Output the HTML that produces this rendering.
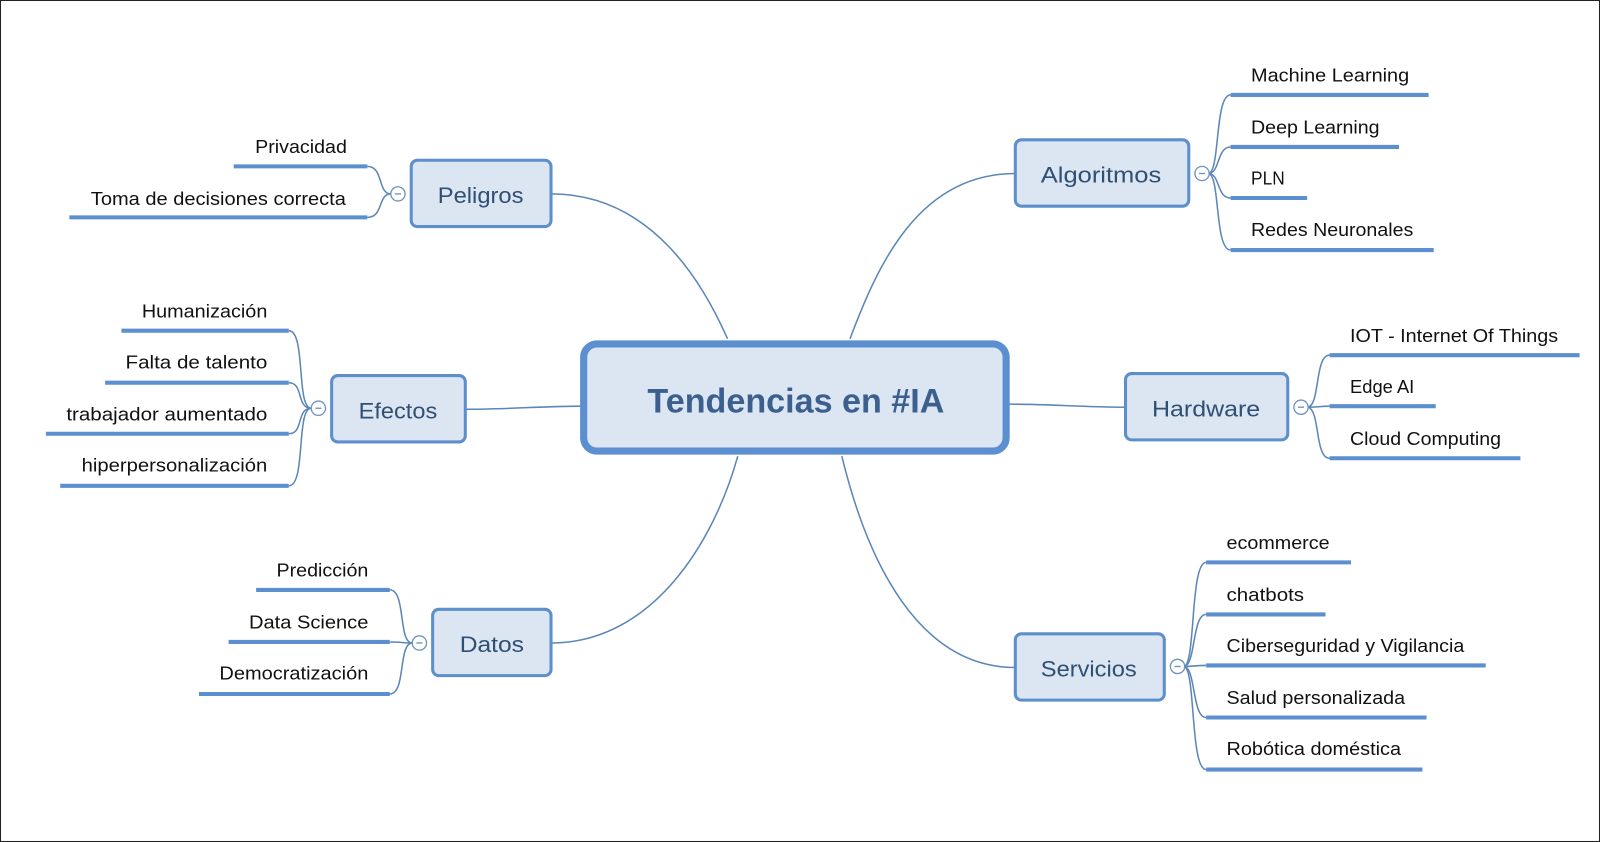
<!DOCTYPE html>
<html><head><meta charset="utf-8"><style>html,body{margin:0;padding:0;background:#fff}svg{display:block}</style></head>
<body>
<svg width="1600" height="842" viewBox="0 0 1568 825" preserveAspectRatio="none" xmlns="http://www.w3.org/2000/svg" font-family="Liberation Sans, sans-serif">
<rect x="0.5" y="0.5" width="1567" height="824" fill="#fff" stroke="#222" stroke-width="1"/>
<g fill="none" stroke="#5b86b8" stroke-width="1.5">
<path d="M540,190 C640,190 690,280 713,332"/>
<path d="M995,170 C900,170 860,260 833,332"/>
<path d="M456,401 C500,401 530,398 569,398"/>
<path d="M989,396 C1030,396 1060,399 1103,399"/>
<path d="M540,630 C640,630 700,530 723,447"/>
<path d="M995,654 C900,654 850,550 825,447"/>
<!-- child branches -->
<path d="M383,190 C370,190 376,163 360,163"/><path d="M383,190 C370,190 376,213 360,213"/>
<path d="M305,400 C290,400 300,324 283,324"/><path d="M305,400 C290,400 298,375 283,375"/>
<path d="M305,400 C290,400 298,425 283,425"/><path d="M305,400 C290,400 300,476 283,476"/>
<path d="M404,630 C390,630 398,578 382,578"/><path d="M404,630 C392,630 396,629 382,629"/><path d="M404,630 C390,630 398,680 382,680"/>
<path d="M1184,170 C1196,170 1190,93 1206,93"/><path d="M1184,170 C1196,170 1192,144 1206,144"/>
<path d="M1184,170 C1196,170 1192,194 1206,194"/><path d="M1184,170 C1196,170 1190,245 1206,245"/>
<path d="M1281,399 C1294,399 1288,348 1303,348"/><path d="M1281,399 C1292,399 1292,398 1303,398"/><path d="M1281,399 C1294,399 1288,449 1303,449"/>
<path d="M1160,653 C1172,653 1166,551 1182,551"/><path d="M1160,653 C1172,653 1168,602 1182,602"/>
<path d="M1160,653 C1172,653 1170,652 1182,652"/><path d="M1160,653 C1172,653 1168,703 1182,703"/>
<path d="M1160,653 C1172,653 1166,754 1182,754"/>
</g>
<g stroke="#5b8fd0" stroke-width="4">
<line x1="229" y1="163" x2="360" y2="163"/><line x1="68" y1="213" x2="360" y2="213"/>
<line x1="119" y1="324" x2="283" y2="324"/><line x1="103" y1="375" x2="283" y2="375"/>
<line x1="45" y1="425" x2="283" y2="425"/><line x1="59" y1="476" x2="283" y2="476"/>
<line x1="251" y1="578" x2="382" y2="578"/><line x1="224" y1="629" x2="382" y2="629"/><line x1="195" y1="680" x2="382" y2="680"/>
<line x1="1206" y1="93" x2="1400" y2="93"/><line x1="1206" y1="144" x2="1371" y2="144"/>
<line x1="1206" y1="194" x2="1281" y2="194"/><line x1="1206" y1="245" x2="1405" y2="245"/>
<line x1="1303" y1="348" x2="1548" y2="348"/><line x1="1303" y1="398" x2="1407" y2="398"/><line x1="1303" y1="449" x2="1490" y2="449"/>
<line x1="1182" y1="551" x2="1324" y2="551"/><line x1="1182" y1="602" x2="1299" y2="602"/>
<line x1="1182" y1="652" x2="1456" y2="652"/><line x1="1182" y1="703" x2="1398" y2="703"/><line x1="1182" y1="754" x2="1394" y2="754"/>
</g>
<g fill="#fff" stroke="#6f93bb" stroke-width="1.3">
<circle cx="390" cy="190" r="7"/><circle cx="312" cy="400" r="7"/><circle cx="411" cy="630" r="7"/>
<circle cx="1178" cy="170" r="7"/><circle cx="1275" cy="399" r="7"/><circle cx="1154" cy="653" r="7"/>
</g>
<g stroke="#6f93bb" stroke-width="1.3">
<line x1="387" y1="190" x2="393" y2="190"/><line x1="309" y1="400" x2="315" y2="400"/><line x1="408" y1="630" x2="414" y2="630"/>
<line x1="1175" y1="170" x2="1181" y2="170"/><line x1="1272" y1="399" x2="1278" y2="399"/><line x1="1151" y1="653" x2="1157" y2="653"/>
</g>
<rect x="572" y="337" width="414" height="105" rx="13" fill="#dce6f2" stroke="#5b8fd0" stroke-width="7"/>
<text x="780" y="404" text-anchor="middle" font-size="34" font-weight="bold" fill="#3b5f8e" textLength="291" lengthAdjust="spacingAndGlyphs">Tendencias en #IA</text>
<g fill="#dce6f2" stroke="#5d8fcc" stroke-width="3">
<rect x="403" y="157" width="137" height="65" rx="6"/><rect x="325" y="368" width="131" height="65" rx="6"/>
<rect x="424" y="597" width="116" height="65" rx="6"/><rect x="995" y="137" width="170" height="65" rx="6"/>
<rect x="1103" y="366" width="159" height="65" rx="6"/><rect x="995" y="621" width="146" height="65" rx="6"/>
</g>
<g font-size="22" fill="#2f4f73" text-anchor="middle" lengthAdjust="spacingAndGlyphs">
<text x="471" y="199" textLength="84" lengthAdjust="spacingAndGlyphs">Peligros</text>
<text x="390" y="410" textLength="77" lengthAdjust="spacingAndGlyphs">Efectos</text>
<text x="482" y="639" textLength="63" lengthAdjust="spacingAndGlyphs">Datos</text>
<text x="1079" y="179" textLength="118" lengthAdjust="spacingAndGlyphs">Algoritmos</text>
<text x="1182" y="408" textLength="106" lengthAdjust="spacingAndGlyphs">Hardware</text>
<text x="1067" y="663" textLength="94" lengthAdjust="spacingAndGlyphs">Servicios</text>
</g>
<g font-size="18" fill="#111">
<text x="250" y="150" textLength="90" lengthAdjust="spacingAndGlyphs">Privacidad</text>
<text x="89" y="201" textLength="250" lengthAdjust="spacingAndGlyphs">Toma de decisiones correcta</text>
<text x="139" y="311" textLength="123" lengthAdjust="spacingAndGlyphs">Humanización</text>
<text x="123" y="361" textLength="139" lengthAdjust="spacingAndGlyphs">Falta de talento</text>
<text x="65" y="412" textLength="197" lengthAdjust="spacingAndGlyphs">trabajador aumentado</text>
<text x="80" y="462" textLength="182" lengthAdjust="spacingAndGlyphs">hiperpersonalización</text>
<text x="271" y="565" textLength="90" lengthAdjust="spacingAndGlyphs">Predicción</text>
<text x="244" y="616" textLength="117" lengthAdjust="spacingAndGlyphs">Data  Science</text>
<text x="215" y="666" textLength="146" lengthAdjust="spacingAndGlyphs">Democratización</text>
<text x="1226" y="80" textLength="155" lengthAdjust="spacingAndGlyphs">Machine Learning</text>
<text x="1226" y="131" textLength="126" lengthAdjust="spacingAndGlyphs">Deep Learning</text>
<text x="1226" y="181" textLength="33" lengthAdjust="spacingAndGlyphs">PLN</text>
<text x="1226" y="231" textLength="159" lengthAdjust="spacingAndGlyphs">Redes Neuronales</text>
<text x="1323" y="335" textLength="204" lengthAdjust="spacingAndGlyphs">IOT - Internet Of Things</text>
<text x="1323" y="385" textLength="63" lengthAdjust="spacingAndGlyphs">Edge AI</text>
<text x="1323" y="436" textLength="148" lengthAdjust="spacingAndGlyphs">Cloud Computing</text>
<text x="1202" y="538" textLength="101" lengthAdjust="spacingAndGlyphs">ecommerce</text>
<text x="1202" y="589" textLength="76" lengthAdjust="spacingAndGlyphs">chatbots</text>
<text x="1202" y="639" textLength="233" lengthAdjust="spacingAndGlyphs">Ciberseguridad y Vigilancia</text>
<text x="1202" y="690" textLength="175" lengthAdjust="spacingAndGlyphs">Salud personalizada</text>
<text x="1202" y="740" textLength="171" lengthAdjust="spacingAndGlyphs">Robótica doméstica</text>
</g>
</svg>
</body></html>
